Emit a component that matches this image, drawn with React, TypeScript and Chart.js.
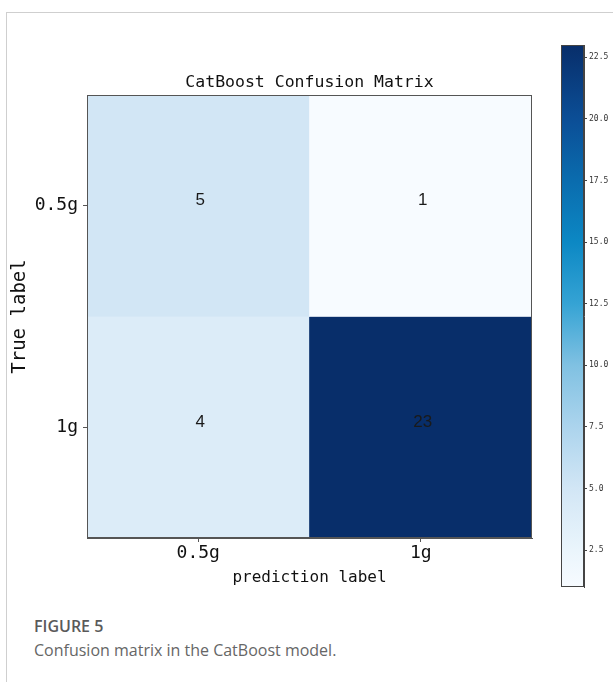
import React, { useEffect, useRef } from 'react';
import { Chart, registerables } from 'chart.js';

Chart.register(...registerables);

// ---- data ----
const predLabels = ['0.5g', '1g'];
const trueLabels = ['0.5g', '1g'];
const row05g = [5, 1];
const row1g = [4, 23];
const colorbarTicks = [2.5, 5, 7.5, 10, 12.5, 15, 17.5, 20, 22.5];
const titleText = 'CatBoost Confusion Matrix';
const xTitle = 'prediction label';
const yTitle = 'True label';
const figureLabel = 'FIGURE 5';
const figureCaption = 'Confusion matrix in the CatBoost model.';

const matrix = [row05g, row1g];
const allVals = matrix.flat();
const vmin = Math.min(...allVals);
const vmax = Math.max(...allVals);

const MONO = "'DejaVu Sans Mono', monospace";

// colormap stops (position 0..1, rgb) as rendered in the reference colorbar
const CMAP: [number, number[]][] = [
  [0.0, [247, 251, 255]],
  [0.068, [234, 245, 252]],
  [0.182, [210, 230, 245]],
  [0.295, [172, 212, 237]],
  [0.409, [128, 193, 226]],
  [0.523, [53, 163, 212]],
  [0.636, [12, 136, 196]],
  [0.75, [10, 108, 174]],
  [0.864, [11, 78, 150]],
  [1.0, [8, 46, 106]],
];

function cmapColor(t: number): string {
  const c = Math.max(0, Math.min(1, t));
  let k = 0;
  while (k < CMAP.length - 2 && c > CMAP[k + 1][0]) k++;
  const [t0, a] = CMAP[k];
  const [t1, b] = CMAP[k + 1];
  const f = (c - t0) / (t1 - t0);
  const r = Math.round(a[0] + (b[0] - a[0]) * f);
  const g = Math.round(a[1] + (b[1] - a[1]) * f);
  const bl = Math.round(a[2] + (b[2] - a[2]) * f);
  return `rgb(${r},${g},${bl})`;
}

const spinePlugin = {
  id: 'spines',
  afterDraw(chart: any) {
    const { ctx, chartArea } = chart;
    ctx.save();
    ctx.strokeStyle = '#555';
    ctx.lineWidth = 1;
    ctx.strokeRect(
      Math.round(chartArea.left) + 0.5,
      Math.round(chartArea.top) + 0.5,
      Math.round(chartArea.right - chartArea.left) - 1,
      Math.round(chartArea.bottom - chartArea.top) - 1
    );
    // title centred over the plot area
    ctx.font = `16.5px ${MONO}`;
    ctx.fillStyle = '#111';
    ctx.textAlign = 'center';
    ctx.textBaseline = 'middle';
    ctx.fillText(titleText, (chartArea.left + chartArea.right) / 2, chartArea.top - 12);
    ctx.restore();
  },
};

const valuePlugin = {
  id: 'cellValues',
  afterDatasetsDraw(chart: any) {
    const { ctx } = chart;
    ctx.save();
    ctx.font = "17px 'Liberation Sans', Arial, sans-serif";
    ctx.fillStyle = '#1a1a1a';
    ctx.textAlign = 'center';
    ctx.textBaseline = 'middle';
    chart.data.datasets.forEach((ds: any, i: number) => {
      const meta = chart.getDatasetMeta(i);
      meta.data.forEach((bar: any, j: number) => {
        const cy = (bar.y + bar.base) / 2;
        ctx.fillText(String(matrix[i][j]), bar.x + 2, cy - 5);
      });
    });
    ctx.restore();
  },
};

const gradientPlugin = {
  id: 'cbGradient',
  beforeDatasetsDraw(chart: any) {
    const { ctx, chartArea } = chart;
    const y = chart.scales.y;
    const p0 = y.getPixelForValue(vmin);
    const p1 = y.getPixelForValue(vmax);
    const grad = ctx.createLinearGradient(0, p0, 0, p1);
    CMAP.forEach(([t]) => {
      grad.addColorStop(t, cmapColor(t));
    });
    ctx.save();
    ctx.fillStyle = grad;
    ctx.fillRect(chartArea.left, chartArea.top, chartArea.right - chartArea.left, chartArea.bottom - chartArea.top);
    ctx.restore();
  },
  afterDraw(chart: any) {
    const { ctx, chartArea } = chart;
    ctx.save();
    ctx.strokeStyle = '#444';
    ctx.lineWidth = 1;
    ctx.strokeRect(
      Math.round(chartArea.left) + 0.5,
      Math.round(chartArea.top) + 0.5,
      Math.round(chartArea.right - chartArea.left) - 1,
      Math.round(chartArea.bottom - chartArea.top) - 1
    );
    ctx.restore();
  },
};

export default function App() {
  const mainRef = useRef<HTMLCanvasElement | null>(null);
  const cbRef = useRef<HTMLCanvasElement | null>(null);

  useEffect(() => {
    const main = new Chart(mainRef.current as HTMLCanvasElement, {
      type: 'bar',
      data: {
        labels: predLabels,
        datasets: trueLabels.map((lab, i) => ({
          label: lab,
          data: predLabels.map(() => 1),
          backgroundColor: matrix[i].map((v) => cmapColor((v - vmin) / (vmax - vmin))),
          borderWidth: 0,
          barPercentage: 1,
          categoryPercentage: 1,
        })),
      },
      options: {
        animation: false,
        responsive: false,
        maintainAspectRatio: false,
        layout: { padding: { left: 0, right: 16, top: 95, bottom: 0 } },
        plugins: {
          legend: { display: false },
          tooltip: { enabled: false },
          title: { display: false },
        },
        scales: {
          x: {
            stacked: true,
            grid: {
              display: true,
              drawOnChartArea: false,
              drawTicks: true,
              tickLength: 4,
              color: '#555',
              offset: false,
            },
            border: { display: true, color: '#555', width: 1 },
            ticks: { font: { family: MONO, size: 18 }, color: '#111', padding: 1 },
            title: {
              display: true,
              text: xTitle,
              color: '#111',
              font: { family: MONO, size: 16 },
              padding: { top: 0, bottom: 13 },
            },
            afterFit: (s: any) => {
              s.height = 62;
            },
          },
          y: {
            type: 'linear',
            stacked: true,
            reverse: true,
            min: 0,
            max: trueLabels.length,
            afterBuildTicks: (s: any) => {
              s.ticks = trueLabels.map((_, i) => ({ value: i + 0.5 }));
            },
            ticks: {
              callback: (_v: any, i: number) => trueLabels[i],
              font: { family: MONO, size: 18 },
              color: '#111',
              padding: 5,
              autoSkip: false,
            },
            grid: {
              display: true,
              drawOnChartArea: false,
              drawTicks: true,
              tickLength: 4,
              color: '#555',
            },
            border: { display: true, color: '#555', width: 1 },
            title: {
              display: true,
              text: yTitle,
              color: '#111',
              font: { family: MONO, size: 19 },
              padding: { top: 9, bottom: 0 },
            },
            afterFit: (s: any) => {
              s.width = 87;
            },
          },
        },
      } as any,
      plugins: [valuePlugin, spinePlugin],
    });

    const cb = new Chart(cbRef.current as HTMLCanvasElement, {
      type: 'scatter',
      data: { datasets: [] },
      options: {
        animation: false,
        responsive: false,
        maintainAspectRatio: false,
        layout: { padding: { left: 13, top: 45, bottom: 95, right: 0 } },
        plugins: { legend: { display: false }, tooltip: { enabled: false } },
        scales: {
          x: { type: 'linear', display: false, min: 0, max: 1 },
          y: {
            type: 'linear',
            position: 'right',
            min: vmin,
            max: vmax,
            afterBuildTicks: (s: any) => {
              s.ticks = colorbarTicks.map((v) => ({ value: v }));
            },
            ticks: {
              callback: (v: any) => Number(v).toFixed(1),
              font: { family: MONO, size: 8 },
              color: '#333',
              padding: 2,
              autoSkip: false,
            },
            grid: {
              display: true,
              drawOnChartArea: false,
              drawTicks: true,
              tickLength: 3,
              color: '#444',
            },
            border: { display: true, color: '#444', width: 1 },
            afterFit: (s: any) => {
              s.width = 29;
            },
          },
        },
      } as any,
      plugins: [gradientPlugin],
    });

    return () => {
      main.destroy();
      cb.destroy();
    };
  }, []);

  return (
    <div
      style={{
        position: 'absolute',
        left: 0,
        top: 0,
        width: 613,
        height: 682,
        background: '#fff',
        overflow: 'hidden',
      }}
    >
      <div
        style={{
          position: 'absolute',
          left: 6,
          top: 12,
          width: 607,
          height: 670,
          borderTop: '1px solid #cfcfcf',
          borderLeft: '1px solid #cfcfcf',
          boxSizing: 'border-box',
        }}
      />
      <canvas
        ref={mainRef}
        width={548}
        height={600}
        style={{ position: 'absolute', left: 0, top: 0, width: 548, height: 600, display: 'block' }}
      />
      <canvas
        ref={cbRef}
        width={65}
        height={682}
        style={{ position: 'absolute', left: 548, top: 0, width: 65, height: 682, display: 'block' }}
      />
      <div
        style={{
          position: 'absolute',
          left: 34,
          top: 615,
          fontFamily: "'Open Sans', sans-serif",
          fontSize: 16,
          fontWeight: 600,
          color: '#5a5a5a',
          lineHeight: '22px',
          whiteSpace: 'nowrap',
        }}
      >
        {figureLabel}
      </div>
      <div
        style={{
          position: 'absolute',
          left: 34,
          top: 639,
          fontFamily: "'Open Sans', sans-serif",
          fontSize: 16,
          fontWeight: 400,
          color: '#666',
          lineHeight: '22px',
          whiteSpace: 'nowrap',
        }}
      >
        {figureCaption}
      </div>
    </div>
  );
}
